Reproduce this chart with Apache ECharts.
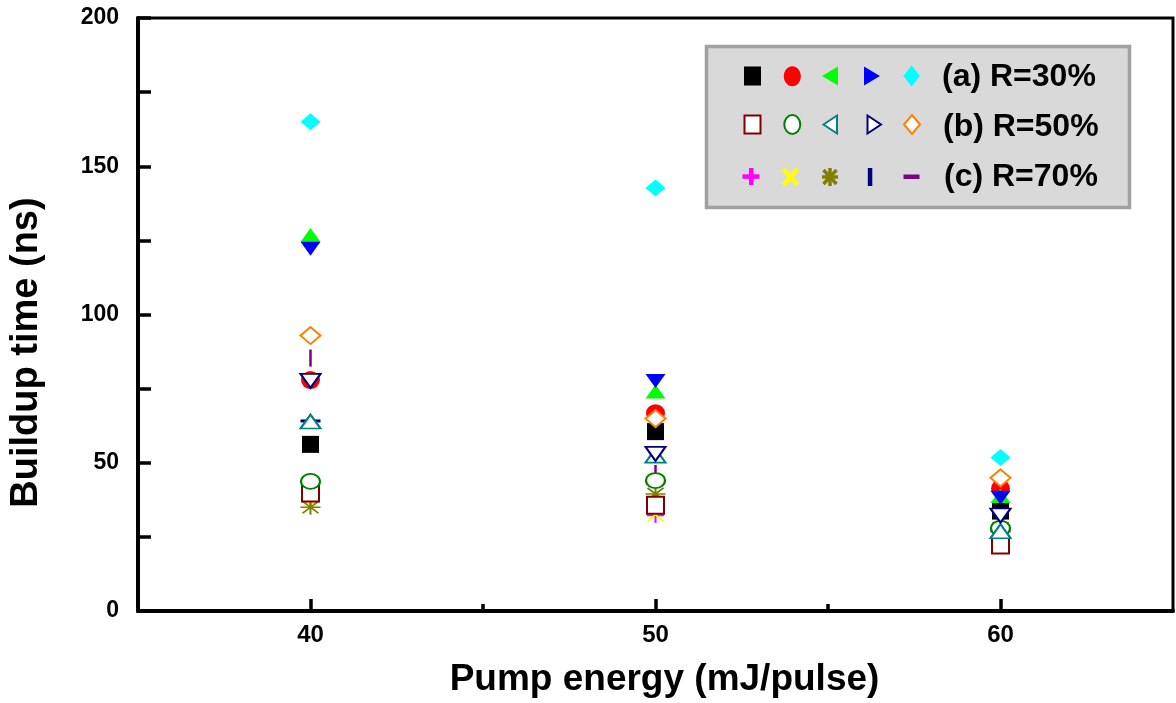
<!DOCTYPE html>
<html>
<head>
<meta charset="utf-8">
<script src="https://cdn.jsdelivr.net/npm/echarts@6/dist/echarts.min.js"></script>
<style>
html,body{margin:0;padding:0;background:#fff;}
#chart{width:1176px;height:703px;}
</style>
</head>
<body>
<div id="chart"></div>
<script>
// ---- data ----
const pumpEnergy = [40, 50, 60];
// (a) R=30%
const a1 = [56.2, 60.5, 33.7];
const a2 = [77.9, 66.7, 41.3];
const a3 = [126.8, 74.0, 38.8];
const a4 = [122.2, 77.6, 38.2];
const a5 = [165.0, 142.7, 51.8];
// (b) R=50%
const b1 = [39.8, 35.7, 22.3];
const b2 = [43.7, 44.0, 27.9];
const b3 = [63.9, 52.4, 26.9];
const b4 = [77.6, 53.0, 32.2];
const b5 = [92.9, 64.9, 44.9];
// (c) R=70%
const c1 = [37.0, 32.3, 23.5];
const c2 = [37.0, 32.5, 24.0];
const c3 = [35.0, 39.5, 28.0];
const c4 = [64.1, 43.8, 27.0];
const c5 = [85.3, 46.4, 34.0];

const yTickLabels = [0, 50, 100, 150, 200];
const xTickLabels = [40, 50, 60];
const xMinorTicks = [45, 55];
const legendLabels = ['(a) R=30%', '(b) R=50%', '(c) R=70%'];

// ---- symbols ----
const PLUS = 'path://M8.8,0L11.2,0L11.2,8.8L20,8.8L20,11.2L11.2,11.2L11.2,20L8.8,20L8.8,11.2L0,11.2L0,8.8L8.8,8.8Z';
const XMARK = 'path://M0,1.5L1.5,0L10,8.5L18.5,0L20,1.5L11.5,10L20,18.5L18.5,20L10,11.5L1.5,20L0,18.5L8.5,10Z';
const ASTER = 'path://M0,9L20,9L20,11L0,11ZM9,0L11,0L11,20L9,20ZM1.3,2.7L2.7,1.3L18.7,17.3L17.3,18.7ZM17.3,1.3L18.7,2.7L2.7,18.7L1.3,17.3Z';

function pts(vals) { return pumpEnergy.map((x, i) => [x, vals[i]]); }

function filled(name, vals, symbol, size, color, rotate) {
  return {
    name, type: 'scatter', data: pts(vals), symbol, symbolSize: size,
    symbolRotate: rotate || 0,
    itemStyle: { color: color, opacity: 1 },
    emphasis: { disabled: true }, silent: true
  };
}
function open(name, vals, symbol, size, color, rotate) {
  return {
    name, type: 'scatter', data: pts(vals), symbol, symbolSize: size,
    symbolRotate: rotate || 0,
    itemStyle: { color: '#ffffff', borderColor: color, borderWidth: 2, opacity: 1 },
    emphasis: { disabled: true }, silent: true
  };
}

const series = [
  filled('c1', c1, PLUS, [17, 15], '#ff00ff'),
  filled('c2', c2, XMARK, [17, 14], '#ffff00'),
  filled('c3', c3, ASTER, [20, 15], '#808000'),
  filled('c4', c4, 'rect', [20, 3], '#000080'),
  filled('c5', c5, 'rect', [2.5, 17], '#800080'),
  filled('a1', a1, 'rect', [17, 17], '#000000'),
  filled('a2', a2, 'circle', [19, 18], '#ff0000'),
  filled('a3', a3, 'triangle', [20, 14], '#00ff00'),
  filled('a4', a4, 'triangle', [20, 14], '#0000ff', 180),
  filled('a5', a5, 'diamond', [20, 17], '#00ffff'),
  open('b1', b1, 'rect', [17, 17], '#800000'),
  open('b2', b2, 'circle', [19, 15], '#008000'),
  open('b3', b3, 'triangle', [20, 14], '#008080'),
  open('b4', b4, 'triangle', [20, 14], '#000080', 180),
  open('b5', b5, 'diamond', [20, 17], '#ff8000')
];

const FONT = '"Liberation Sans", Arial, Helvetica, sans-serif';

// ---- legend drawn as graphic ----
const legendEls = [
  { type: 'rect', shape: { x: 706.5, y: 46.5, width: 423, height: 161 },
    style: { fill: '#d9d9d9', stroke: '#a0a0a0', lineWidth: 3.5 } },
  // row a
  { type: 'rect', shape: { x: 744, y: 66.5, width: 17, height: 19 }, style: { fill: '#000000' } },
  { type: 'ellipse', shape: { cx: 792.3, cy: 76.3, rx: 8.5, ry: 10 }, style: { fill: '#ff0000' } },
  { type: 'polygon', shape: { points: [[822, 76], [838, 66.5], [838, 85.5]] }, style: { fill: '#00ff00' } },
  { type: 'polygon', shape: { points: [[864, 66.5], [880, 76], [864, 85.5]] }, style: { fill: '#0000ff' } },
  { type: 'polygon', shape: { points: [[911.7, 65.5], [920, 76], [911.7, 86.5], [903.4, 76]] }, style: { fill: '#00ffff' } },
  // row b
  { type: 'rect', shape: { x: 744.5, y: 115.5, width: 16, height: 18 }, style: { fill: '#ffffff', stroke: '#800000', lineWidth: 2 } },
  { type: 'ellipse', shape: { cx: 792.3, cy: 124.5, rx: 8, ry: 9.5 }, style: { fill: '#ffffff', stroke: '#008000', lineWidth: 2 } },
  { type: 'polygon', shape: { points: [[823.5, 124.5], [837, 115.5], [837, 133.5]] }, style: { fill: '#ffffff', stroke: '#008080', lineWidth: 2 } },
  { type: 'polygon', shape: { points: [[867.5, 115.5], [881, 124.5], [867.5, 133.5]] }, style: { fill: '#ffffff', stroke: '#000080', lineWidth: 2 } },
  { type: 'polygon', shape: { points: [[912, 115], [920, 124.5], [912, 134], [904, 124.5]] }, style: { fill: '#ffffff', stroke: '#ff8000', lineWidth: 2 } },
  // row c
  { type: 'rect', shape: { x: 749, y: 168, width: 4.5, height: 17 }, style: { fill: '#ff00ff' } },
  { type: 'rect', shape: { x: 742.5, y: 174.3, width: 17, height: 4.5 }, style: { fill: '#ff00ff' } },
  { type: 'line', shape: { x1: 783.5, y1: 169, x2: 797.5, y2: 185 }, style: { stroke: '#ffff00', lineWidth: 4.5 } },
  { type: 'line', shape: { x1: 797.5, y1: 169, x2: 783.5, y2: 185 }, style: { stroke: '#ffff00', lineWidth: 4.5 } },
  { type: 'line', shape: { x1: 830, y1: 168, x2: 830, y2: 186 }, style: { stroke: '#808000', lineWidth: 3.5 } },
  { type: 'line', shape: { x1: 822, y1: 177, x2: 838, y2: 177 }, style: { stroke: '#808000', lineWidth: 3.5 } },
  { type: 'line', shape: { x1: 823.5, y1: 170, x2: 836.5, y2: 184 }, style: { stroke: '#808000', lineWidth: 3.5 } },
  { type: 'line', shape: { x1: 836.5, y1: 170, x2: 823.5, y2: 184 }, style: { stroke: '#808000', lineWidth: 3.5 } },
  { type: 'rect', shape: { x: 867.8, y: 168, width: 4.5, height: 18 }, style: { fill: '#000080' } },
  { type: 'rect', shape: { x: 903.5, y: 174.5, width: 16, height: 4.5 }, style: { fill: '#800080' } },
  // labels
  { type: 'text', x: 942, y: 77, style: { text: legendLabels[0], fill: '#000', font: 'bold 32px ' + FONT, verticalAlign: 'middle', align: 'left' } },
  { type: 'text', x: 943, y: 127.5, style: { text: legendLabels[1], fill: '#000', font: 'bold 32px ' + FONT, verticalAlign: 'middle', align: 'left' } },
  { type: 'text', x: 944, y: 177.5, style: { text: legendLabels[2], fill: '#000', font: 'bold 32px ' + FONT, verticalAlign: 'middle', align: 'left' } }
];

const chart = echarts.init(document.getElementById('chart'), null, { renderer: 'canvas' });
chart.setOption({
  animation: false,
  backgroundColor: '#ffffff',
  textStyle: { fontFamily: FONT },
  grid: {
    left: 137, right: 3, top: 18, bottom: 90,
    show: true, borderColor: '#000', borderWidth: 3, backgroundColor: 'transparent'
  },
  xAxis: [
    {
      type: 'value', min: 35, max: 65, interval: 5,
      name: 'Pump energy (mJ/pulse)', nameLocation: 'middle', nameGap: 50,
      nameTextStyle: { fontSize: 37, fontWeight: 'bold', color: '#000', fontFamily: FONT, padding: [0, 0, 0, 18] },
      axisLine: { show: true, onZero: false, lineStyle: { color: '#000', width: 4 } },
      axisTick: { show: true, inside: true, length: 12, customValues: xTickLabels, lineStyle: { color: '#000', width: 3.5 } },
      axisLabel: { customValues: xTickLabels, fontSize: 24, fontWeight: 'bold', color: '#000', margin: 12, fontFamily: FONT },
      splitLine: { show: false }
    },
    {
      type: 'value', min: 35, max: 65, interval: 5, position: 'bottom',
      axisLine: { show: false },
      axisTick: { show: true, inside: true, length: 7, customValues: xMinorTicks, lineStyle: { color: '#000', width: 3.5 } },
      axisLabel: { show: false },
      splitLine: { show: false }
    }
  ],
  yAxis: {
    type: 'value', min: 0, max: 200, interval: 25,
    name: 'Buildup time (ns)', nameLocation: 'middle', nameGap: 92, nameRotate: 90,
    nameTextStyle: { fontSize: 38, fontWeight: 'bold', color: '#000', fontFamily: FONT, padding: [0, 76, 0, 0] },
    axisLine: { show: true, onZero: false, lineStyle: { color: '#000', width: 4 } },
    axisTick: { show: true, inside: true, length: 13, lineStyle: { color: '#000', width: 3.5 } },
    axisLabel: { customValues: yTickLabels, fontSize: 23, fontWeight: 'bold', color: '#000', margin: 19, fontFamily: FONT },
    splitLine: { show: false }
  },
  series: series,
  graphic: { elements: legendEls }
});
</script>
</body>
</html>
